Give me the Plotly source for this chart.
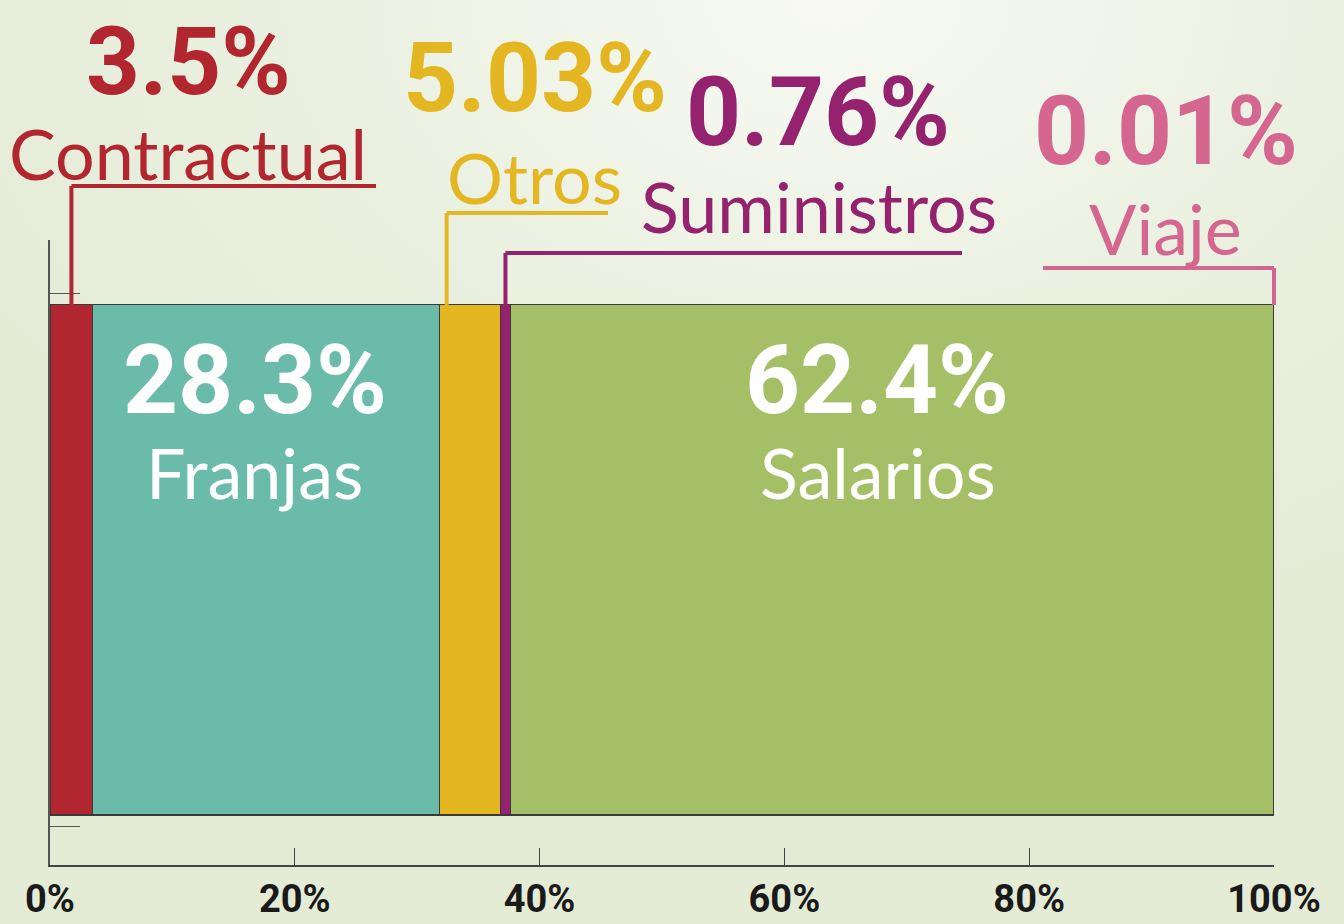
import base64
import plotly.graph_objects as go

# ---------------- data ----------------
categories = ["Contractual", "Franjas", "Otros", "Suministros", "Salarios", "Viaje"]
values = [3.5, 28.3, 5.03, 0.76, 62.4, 0.01]
value_labels = ["3.5%", "28.3%", "5.03%", "0.76%", "62.4%", "0.01%"]
tick_values = [0, 20, 40, 60, 80, 100]
tick_labels = ["0%", "20%", "40%", "60%", "80%", "100%"]

# ---------------- style ----------------
colors = ["#B2262F", "#6BBBAA", "#E4B621", "#95226F", "#A5BF66", "#D4668F"]
W, H = 1344, 924
ML, MR, MT, MB = 50, 70, 240, 59
PW, PH = W - ML - MR, H - MT - MB

def px_x(p):
    return (p - ML) / PW

def px_y(p):
    return (H - MB - p) / PH

# label placement: (inside bar?, value-label center px, name-label center px)
label_pos = {
    "Contractual": (False, (188, 62), (188, 153)),
    "Franjas": (True, (255, 380), (255, 472)),
    "Otros": (False, (535, 78), (534, 177)),
    "Suministros": (False, (818, 112), (819, 206)),
    "Salarios": (True, (877, 380), (878, 472)),
    "Viaje": (False, (1166, 131), (1165, 228)),
}
# leader lines: (x offset within segment as fraction, level px, horizontal end px)
leaders = {
    "Contractual": (0.5, 186, 376),
    "Otros": (0.12, 213, 608),
    "Suministros": (0.5, 253, 962),
    "Viaje": (1.0, 268, 1043),
}

big_font = "Liberation Sans Narrow, Roboto, sans-serif"
name_font = "Lato, Noto Sans, sans-serif"

fig = go.Figure()
for cat, val, col in zip(categories, values, colors):
    fig.add_trace(go.Bar(
        x=[val], y=[0], orientation="h", width=1,
        name=cat, marker=dict(color=col, line=dict(color="#3a3a3a", width=1.2)),
        hoverinfo="skip", showlegend=False,
    ))

annotations = []
shapes = []
cum = 0.0
for cat, val, lab, col in zip(categories, values, value_labels, colors):
    inside, vpos, npos = label_pos[cat]
    tcol = "white" if inside else col
    big_size = 94 if cat == "Contractual" else 96
    annotations.append(dict(
        text=lab, x=px_x(vpos[0]), y=px_y(vpos[1]), xref="paper", yref="paper",
        xanchor="center", yanchor="middle", showarrow=False,
        font=dict(family=big_font, size=big_size, color=tcol, weight="bold"),
    ))
    annotations.append(dict(
        text=cat, x=px_x(npos[0]), y=px_y(npos[1]), xref="paper", yref="paper",
        xanchor="center", yanchor="middle", showarrow=False,
        font=dict(family=name_font, size=70, color=tcol),
    ))
    if cat in leaders:
        frac, lvl, hend = leaders[cat]
        xv = (cum + frac * val) / 100.0
        ytop = px_y(305)
        ylvl = px_y(lvl)
        shapes.append(dict(type="line", xref="paper", yref="paper",
                           x0=xv, x1=xv, y0=ytop, y1=ylvl,
                           line=dict(color=col, width=4), layer="above"))
        shapes.append(dict(type="line", xref="paper", yref="paper",
                           x0=xv, x1=px_x(hend), y0=ylvl, y1=ylvl,
                           line=dict(color=col, width=4), layer="above"))
    cum += val

# background gradient (decorative)
svg = f'''<svg xmlns="http://www.w3.org/2000/svg" width="{W}" height="{H}">
<defs><radialGradient id="g" cx="0.62" cy="0.0" r="0.75">
<stop offset="0" stop-color="#F8FAF3"/><stop offset="0.55" stop-color="#E9F0DF"/>
<stop offset="1" stop-color="#E4ECD6"/></radialGradient></defs>
<rect width="{W}" height="{H}" fill="url(#g)"/></svg>'''
bg_src = "data:image/svg+xml;base64," + base64.b64encode(svg.encode()).decode()

fig.update_layout(
    width=W, height=H,
    margin=dict(l=ML, r=MR, t=MT, b=MB, autoexpand=False),
    barmode="stack",
    paper_bgcolor="#E5EDD8",
    plot_bgcolor="rgba(0,0,0,0)",
    annotations=annotations,
    shapes=shapes,
    images=[dict(source=bg_src, xref="paper", yref="paper",
                 x=-ML / PW, y=1 + MT / PH, sizex=W / PW, sizey=H / PH,
                 xanchor="left", yanchor="top", sizing="stretch", layer="below")],
    xaxis=dict(range=[0, 100], tickvals=tick_values, ticktext=tick_labels,
               ticks="inside", ticklen=17, tickcolor="#444", tickwidth=1.2,
               showline=True, linecolor="#444", linewidth=1.5,
               showgrid=False, zeroline=False, fixedrange=True, automargin=False,
               tickfont=dict(family=big_font, size=38, color="#1a1a1a", weight="bold")),
    yaxis=dict(range=[-0.598, 0.627], tickvals=[-0.522, 0.522],
               ticks="inside", ticklen=30, tickcolor="#555", tickwidth=1.2,
               showticklabels=False, showline=True, linecolor="#555", linewidth=1.5,
               showgrid=False, zeroline=False, fixedrange=True, automargin=False),
)

fig.write_html("out.html", config={"displayModeBar": False},
               post_script="document.body.style.margin='0';document.body.style.overflow='hidden';")
